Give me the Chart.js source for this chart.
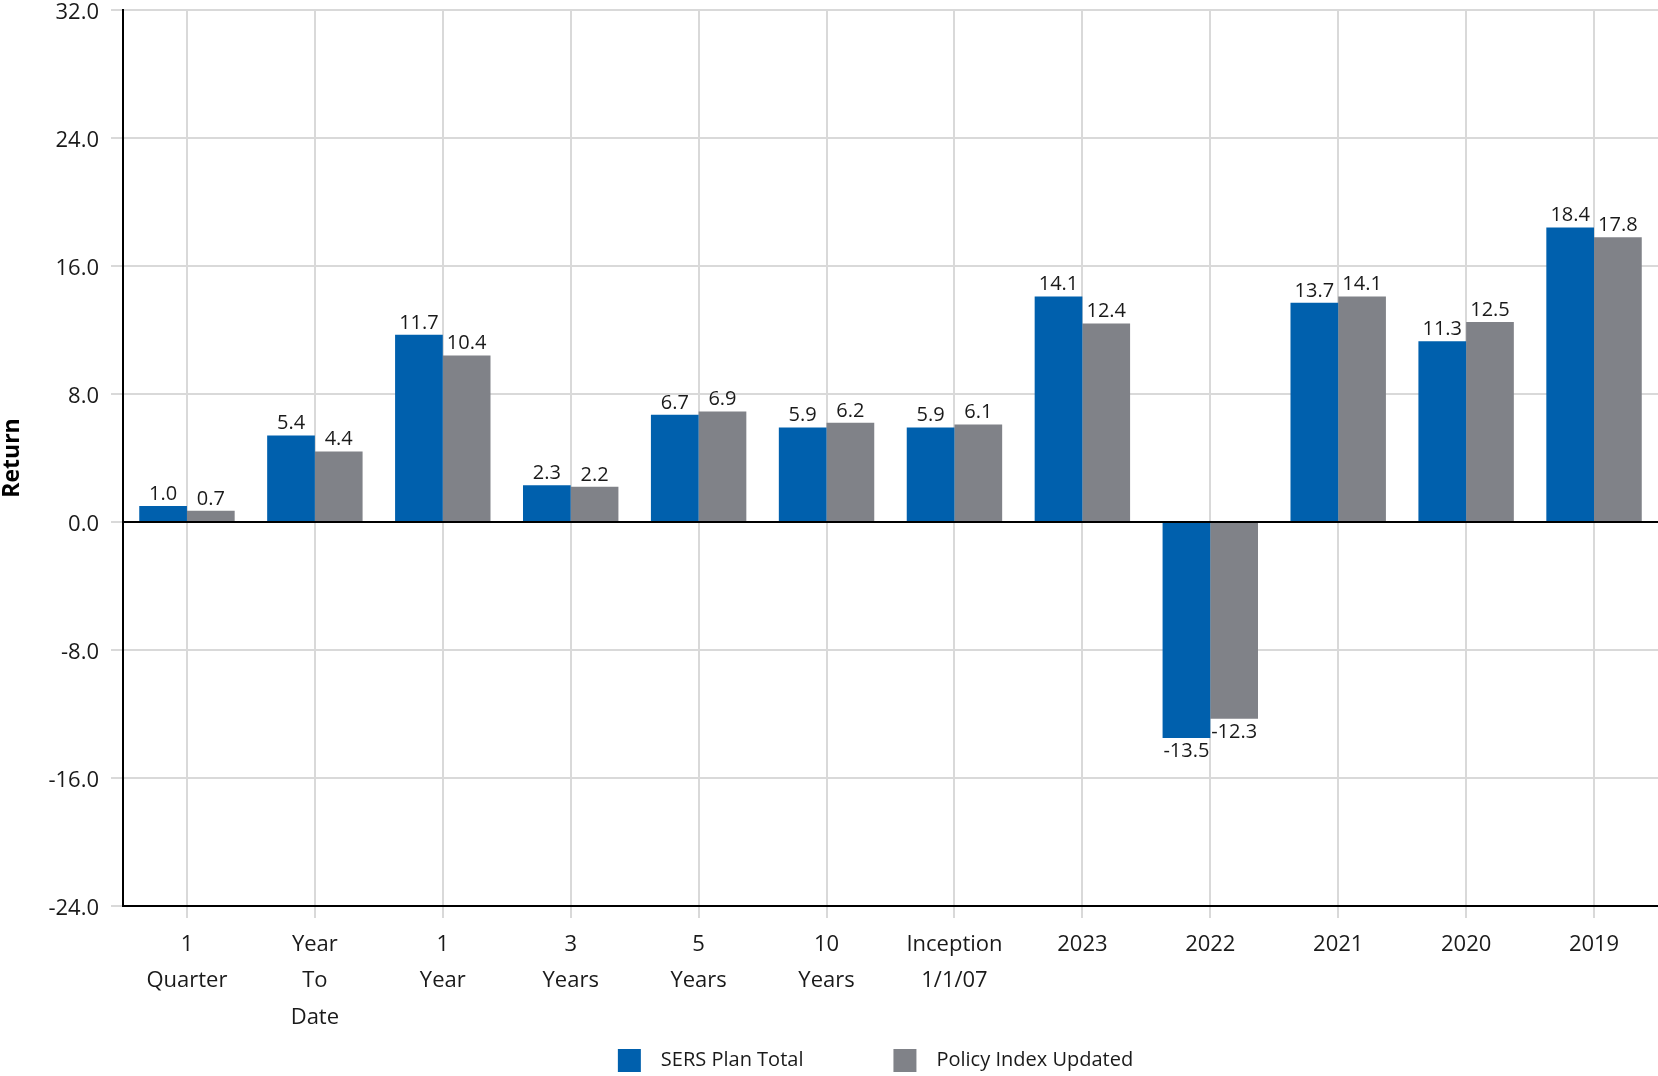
<!DOCTYPE html>
<html>
<head>
<meta charset="utf-8">
<title>Returns</title>
<script src="https://cdn.jsdelivr.net/npm/chart.js@4.4.1/dist/chart.umd.min.js"></script>
<style>
  html, body { margin: 0; padding: 0; background: #fff; }
  #wrap { width: 1658px; height: 1076px; position: relative; }
</style>
</head>
<body>
<div id="wrap"><canvas id="returns-chart"></canvas></div>
<script>
// periods along the x axis (multi-line labels)
const periods = [
  ["1", "Quarter"],
  ["Year", "To", "Date"],
  ["1", "Year"],
  ["3", "Years"],
  ["5", "Years"],
  ["10", "Years"],
  ["Inception", "1/1/07"],
  ["2023"],
  ["2022"],
  ["2021"],
  ["2020"],
  ["2019"]
];

const planTotal = [1.0, 5.4, 11.7, 2.3, 6.7, 5.9, 5.9, 14.1, -13.5, 13.7, 11.3, 18.4];
const policyIndex = [0.7, 4.4, 10.4, 2.2, 6.9, 6.2, 6.1, 12.4, -12.3, 14.1, 12.5, 17.8];

const yMin = -24;
const yMax = 32;
const yStep = 8;

const fontFamily = "'Open Sans', 'Noto Sans', sans-serif";
const gridGray = "#d9d9d9";
const textColor = "#1a1a1a";

// Function to write the value over (or under) each bar
const valueLabels = {
  id: "valueLabels",
  afterDatasetsDraw(chart) {
    const ctx = chart.ctx;
    ctx.save();
    ctx.font = `20px ${fontFamily}`;
    ctx.fillStyle = textColor;
    ctx.textAlign = "center";
    chart.data.datasets.forEach((dataset, i) => {
      chart.getDatasetMeta(i).data.forEach((bar, j) => {
        const value = dataset.data[j];
        if (value >= 0) {
          ctx.textBaseline = "bottom";
          ctx.fillText(value.toFixed(1), bar.x, bar.y - 2);
        } else {
          ctx.textBaseline = "top";
          ctx.fillText(value.toFixed(1), bar.x, bar.y + 3);
        }
      });
    });
    ctx.restore();
  }
};

// legend entries get a little extra room around the text
const defaultLabels = Chart.defaults.plugins.legend.labels.generateLabels;
function legendLabels(chart) {
  return defaultLabels(chart).map((item, i, all) => {
    const tail = i < all.length - 1 ? "\u2003\u2003\u2003\u2002" : "\u2003\u2002";
    item.text = "\u2002" + item.text + tail;
    return item;
  });
}

const ctx = document.getElementById("returns-chart").getContext("2d");

new Chart(ctx, {
  type: "bar",
  data: {
    labels: periods,
    datasets: [
      {
        label: "SERS Plan Total",
        data: planTotal,
        backgroundColor: "#0060ad",
        categoryPercentage: 0.746,
        barPercentage: 1.0
      },
      {
        label: "Policy Index Updated",
        data: policyIndex,
        backgroundColor: "#808288",
        categoryPercentage: 0.746,
        barPercentage: 1.0
      }
    ]
  },
  options: {
    responsive: true,
    maintainAspectRatio: false,
    animation: false,
    layout: {
      padding: { top: 10, right: 0, bottom: -6, left: 0 }
    },
    plugins: {
      tooltip: { enabled: false },
      legend: {
        position: "bottom",
        fullSize: false,
        labels: {
          boxWidth: 23,
          boxHeight: 23,
          padding: 20,
          color: textColor,
          font: { family: fontFamily, size: 20 },
          generateLabels: legendLabels
        }
      }
    },
    scales: {
      x: {
        grid: {
          offset: false,
          color: gridGray,
          lineWidth: 2,
          tickLength: 12,
          tickColor: gridGray
        },
        border: { color: "#000", width: 2 },
        ticks: {
          color: textColor,
          padding: 8,
          maxRotation: 0,
          autoSkip: false,
          font: { family: fontFamily, size: 22, lineHeight: 1.67 }
        },
        afterFit(scale) {
          scale.height = 123;
        }
      },
      y: {
        min: yMin,
        max: yMax,
        grid: {
          color: (c) => (c.tick && c.tick.value === 0 ? "#000" : gridGray),
          lineWidth: 2,
          tickLength: 12,
          tickColor: gridGray
        },
        border: { color: "#000", width: 2 },
        ticks: {
          stepSize: yStep,
          color: textColor,
          padding: 12,
          labelOffset: 3,
          font: { family: fontFamily, size: 22 },
          callback: (v) => Number(v).toFixed(1)
        },
        title: {
          display: true,
          text: "Return",
          color: "#000",
          padding: { top: -1, bottom: 0 },
          font: { family: fontFamily, size: 23, weight: "bold" }
        },
        afterFit(scale) {
          scale.width = 123;
          scale.paddingTop = 0;
          scale.paddingBottom = 0;
        }
      }
    }
  },
  plugins: [valueLabels]
});
</script>
</body>
</html>
